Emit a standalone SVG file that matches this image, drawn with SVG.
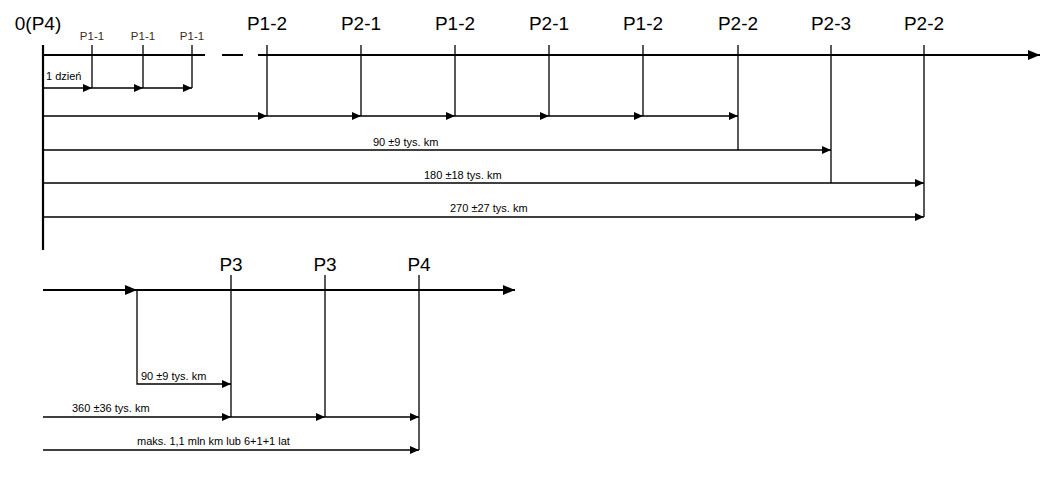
<svg xmlns="http://www.w3.org/2000/svg" width="1054" height="477" viewBox="0 0 1054 477">
<style>
.l{stroke:#000;stroke-width:1.3;fill:none}
.a{stroke:#000;stroke-width:2.2;fill:none}
.big{font-family:"Liberation Sans",Arial,sans-serif;font-size:19px;fill:#000;text-anchor:middle}
.sm{font-family:"Liberation Sans",Arial,sans-serif;font-size:11px;fill:#000}
.p11{font-family:"Liberation Sans",Arial,sans-serif;font-size:11.5px;fill:#3b2a1a;text-anchor:middle}
</style>
<defs>
<marker id="ar" markerWidth="10" markerHeight="10" refX="9" refY="4" orient="auto" markerUnits="userSpaceOnUse"><path d="M0,0L9,4L0,8Z" fill="#000"/></marker>
<marker id="ab" markerWidth="14" markerHeight="12" refX="12" refY="5" orient="auto" markerUnits="userSpaceOnUse"><path d="M0,0L12,5L0,10Z" fill="#000"/></marker>
</defs>
<g id="labels">
<text class="big" x="38" y="30">0(P4)</text>
<text class="p11" x="92" y="40">P1-1</text>
<text class="p11" x="143" y="40">P1-1</text>
<text class="p11" x="192" y="40">P1-1</text>
<text class="big" x="267" y="30">P1-2</text>
<text class="big" x="361" y="30">P2-1</text>
<text class="big" x="455" y="30">P1-2</text>
<text class="big" x="549" y="30">P2-1</text>
<text class="big" x="643" y="30">P1-2</text>
<text class="big" x="738" y="30">P2-2</text>
<text class="big" x="831" y="30">P2-3</text>
<text class="big" x="924" y="30">P2-2</text>
<text class="sm" x="46" y="80">1 dzień</text>
<text class="sm" x="373" y="146">90 ±9 tys. km</text>
<text class="sm" x="424" y="179">180 ±18 tys. km</text>
<text class="sm" x="450" y="212">270 ±27 tys. km</text>
<text class="big" x="231" y="271">P3</text>
<text class="big" x="325" y="271">P3</text>
<text class="big" x="419" y="271">P4</text>
<text class="sm" x="141" y="380">90 ±9 tys. km</text>
<text class="sm" x="72" y="412">360 ±36 tys. km</text>
<text class="sm" x="137" y="445">maks. 1,1 mln km lub 6+1+1 lat</text>
</g>
<g id="connectors">
<path class="a" d="M43,55H205M222,55H243M258,55H1040" marker-end="url(#ab)"/>
<path class="a" d="M43,45V250"/>
<path class="l" d="M92,45V88M143,45V88M192,45V88M267,45V116M361,45V116M455,45V116M549,45V116M643,45V116M738,45V150M831,45V183M924,45V217"/>
<path class="l" d="M43,88H92" marker-end="url(#ar)"/><path class="l" d="M92,88H143" marker-end="url(#ar)"/><path class="l" d="M143,88H192" marker-end="url(#ar)"/>
<path class="l" d="M43,116H267" marker-end="url(#ar)"/><path class="l" d="M267,116H361" marker-end="url(#ar)"/><path class="l" d="M361,116H455" marker-end="url(#ar)"/><path class="l" d="M455,116H549" marker-end="url(#ar)"/><path class="l" d="M549,116H643" marker-end="url(#ar)"/><path class="l" d="M643,116H738" marker-end="url(#ar)"/>
<path class="l" d="M43,150H831" marker-end="url(#ar)"/>
<path class="l" d="M43,183H924" marker-end="url(#ar)"/>
<path class="l" d="M43,217H924" marker-end="url(#ar)"/>
<path class="a" d="M43,290H137" marker-end="url(#ab)"/>
<path class="a" d="M137,290H515" marker-end="url(#ab)"/>
<path class="l" d="M137,290V384H231" marker-end="url(#ar)"/>
<path class="l" d="M231,275V417M325,275V417M419,275V450"/>
<path class="l" d="M43,417H231" marker-end="url(#ar)"/><path class="l" d="M231,417H325" marker-end="url(#ar)"/><path class="l" d="M325,417H419" marker-end="url(#ar)"/>
<path class="l" d="M43,450H419" marker-end="url(#ar)"/>
</g>
</svg>
